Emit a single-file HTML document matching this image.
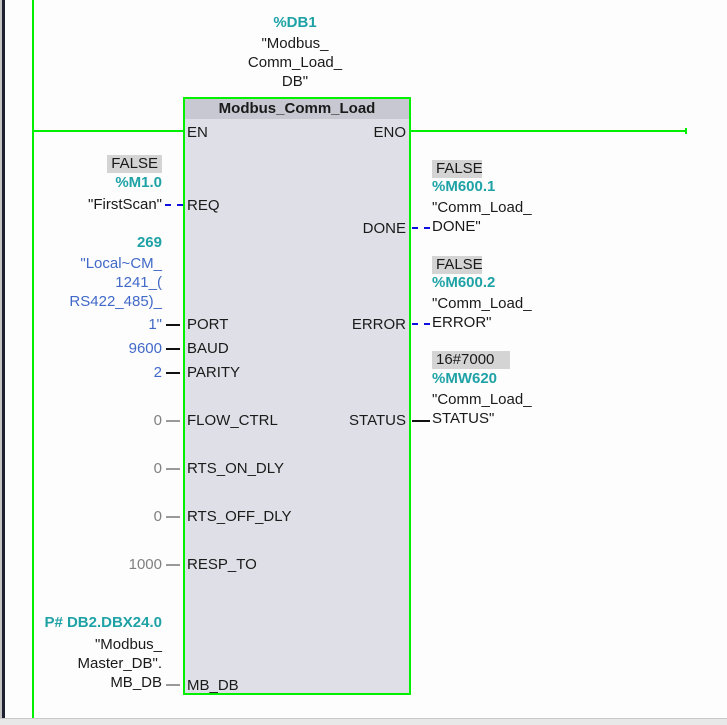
<!DOCTYPE html>
<html><head><meta charset="utf-8"><style>
body{margin:0;width:727px;height:724px;background:#fdfdfd;position:relative;overflow:hidden;font-family:"Liberation Sans",sans-serif;font-size:15px;color:#1a1a1a}
div{position:absolute;white-space:nowrap;line-height:18px}
.r{text-align:right}
.t{color:#1fa2a6;font-weight:bold}
.b{color:#4169c8}
.g{color:#808080}
.f{background:#d4d4d4;padding:0 4px}
.pin{width:14px;height:2px;background:#111}
</style></head><body>
<div style="left:0;top:0;width:2px;height:724px;background:#c4c4c4"></div>
<div style="left:2px;top:0;width:3px;height:718px;background:#1e2230"></div>
<div style="left:0;top:718px;width:727px;height:6px;background:#e8e8e8;border-top:1px solid #c8c8c8"></div>
<div style="left:32px;top:0;width:2px;height:718px;background:#00f000"></div>
<div style="left:34px;top:130px;width:150px;height:2px;background:#00f000"></div>
<div style="left:410px;top:130px;width:276px;height:2px;background:#00f000"></div>
<div style="left:685px;top:128px;width:2px;height:6px;background:#00f000"></div>
<!-- block -->
<div style="left:183px;top:97px;width:224px;height:594px;border:2px solid #00f000;background:#dfdfe7"></div>
<div style="left:185px;top:99px;width:224px;height:20px;background:#c8c8d3;text-align:center;font-weight:bold;font-size:15px;line-height:20px">Modbus_Comm_Load</div>
<!-- instance -->
<div class="t" style="left:200px;width:190px;text-align:center;top:14px">%DB1</div>
<div style="left:200px;width:190px;text-align:center;top:34px;line-height:19px;white-space:normal">"Modbus_<br>Comm_Load_<br>DB"</div>
<!-- pins inside -->
<div style="left:187px;top:124px">EN</div>
<div class="r" style="right:321px;top:124px">ENO</div>
<div style="left:187px;top:197px">REQ</div>
<div class="r" style="right:321px;top:220px">DONE</div>
<div style="left:187px;top:316px">PORT</div>
<div class="r" style="right:321px;top:316px">ERROR</div>
<div style="left:187px;top:340px">BAUD</div>
<div style="left:187px;top:364px">PARITY</div>
<div style="left:187px;top:412px">FLOW_CTRL</div>
<div class="r" style="right:321px;top:412px">STATUS</div>
<div style="left:187px;top:460px">RTS_ON_DLY</div>
<div style="left:187px;top:508px">RTS_OFF_DLY</div>
<div style="left:187px;top:556px">RESP_TO</div>
<div style="left:187px;top:677px">MB_DB</div>
<!-- left connectors -->
<div style="left:165px;top:204px;width:18px;border-top:2px dashed #1010e0"></div>
<div class="pin" style="left:166px;top:324px"></div>
<div class="pin" style="left:166px;top:348px"></div>
<div class="pin" style="left:166px;top:372px"></div>
<div class="pin" style="left:166px;top:420px;background:#999"></div>
<div class="pin" style="left:166px;top:468px;background:#999"></div>
<div class="pin" style="left:166px;top:516px;background:#999"></div>
<div class="pin" style="left:166px;top:564px;background:#999"></div>
<div class="pin" style="left:166px;top:684px;background:#999"></div>
<!-- right connectors -->
<div style="left:412px;top:227px;width:18px;border-top:2px dashed #1010e0"></div>
<div style="left:412px;top:323px;width:18px;border-top:2px dashed #1010e0"></div>
<div class="pin" style="left:412px;top:420px;width:18px"></div>
<!-- left operands -->
<div class="r f" style="right:565px;top:155px">FALSE</div>
<div class="r t" style="right:565px;top:174px">%M1.0</div>
<div class="r" style="right:565px;top:196px">"FirstScan"</div>
<div class="r t" style="right:565px;top:234px">269</div>
<div class="r b" style="right:565px;top:255px">"Local~CM_</div>
<div class="r b" style="right:565px;top:274px">1241_(</div>
<div class="r b" style="right:565px;top:293px">RS422_485)_</div>
<div class="r b" style="right:565px;top:316px">1"</div>
<div class="r b" style="right:565px;top:340px">9600</div>
<div class="r b" style="right:565px;top:364px">2</div>
<div class="r g" style="right:565px;top:412px">0</div>
<div class="r g" style="right:565px;top:460px">0</div>
<div class="r g" style="right:565px;top:508px">0</div>
<div class="r g" style="right:565px;top:556px">1000</div>
<div class="r t" style="right:565px;top:614px">P# DB2.DBX24.0</div>
<div class="r" style="right:565px;top:636px">"Modbus_</div>
<div class="r" style="right:565px;top:655px">Master_DB".</div>
<div class="r" style="right:565px;top:674px">MB_DB</div>
<!-- right operands -->
<div class="f" style="left:432px;top:160px;width:42px">FALSE</div>
<div class="t" style="left:432px;top:178px">%M600.1</div>
<div style="left:432px;top:199px">"Comm_Load_</div>
<div style="left:432px;top:218px">DONE"</div>
<div class="f" style="left:432px;top:256px;width:42px">FALSE</div>
<div class="t" style="left:432px;top:274px">%M600.2</div>
<div style="left:432px;top:295px">"Comm_Load_</div>
<div style="left:432px;top:314px">ERROR"</div>
<div class="f" style="left:432px;top:351px;width:70px">16#7000</div>
<div class="t" style="left:432px;top:370px">%MW620</div>
<div style="left:432px;top:391px">"Comm_Load_</div>
<div style="left:432px;top:410px">STATUS"</div>
</body></html>
